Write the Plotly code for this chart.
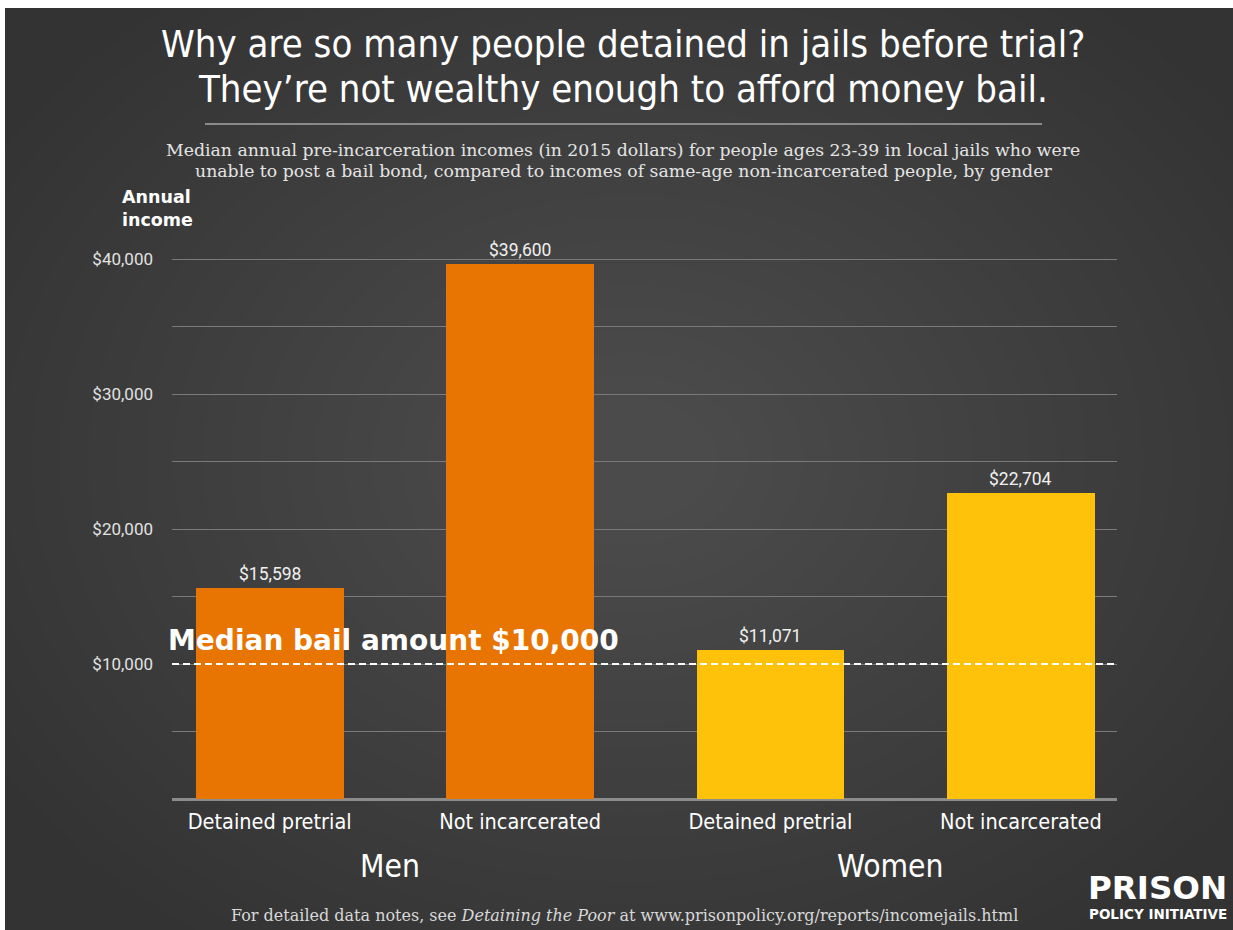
import plotly.graph_objects as go

# --- data -------------------------------------------------------------
categories = ["Detained pretrial", "Not incarcerated", "Detained pretrial", "Not incarcerated"]
groups = ["Men", "Women"]
incomes = [15598, 39600, 11071, 22704]
bar_colors = ["#E87502", "#E87502", "#FFC20A", "#FFC20A"]
median_bail = 10000
y_tickvals = [0, 5000, 10000, 15000, 20000, 25000, 30000, 35000, 40000]
y_ticktext = ["", "", "$10,000", "", "$20,000", "", "$30,000", "", "$40,000"]

W, H = 1233, 930
ML, MR, MT, MB = 172, W - 1117, 254, H - 799
PW, PH = W - ML - MR, H - MT - MB
# keep 40,000 at pixel row 259 while leaving headroom so its gridline is drawn
Y_MAX = 40000 * PH / (799 - 259)


def px(x):
    """pixel x -> paper x"""
    return (x - ML) / PW


def py(y):
    """pixel y -> paper y"""
    return (H - MB - y) / PH


SANS = "Roboto, 'Open Sans', sans-serif"
COND = "'Liberation Sans Narrow', 'DejaVu Sans Condensed', Roboto, sans-serif"
BOLD = "'DejaVu Sans', Lato, sans-serif"
SERIF = "'DejaVu Serif', 'Liberation Serif', serif"

xpos = list(range(len(incomes)))

fig = go.Figure()
fig.add_trace(go.Bar(
    x=xpos, y=incomes, marker=dict(color=bar_colors, line=dict(width=0)),
    width=0.59, hoverinfo="skip", showlegend=False,
))

shapes = []
# dark card with a faint lighter centre
shapes.append(dict(type="rect", xref="paper", yref="paper", layer="below",
                   x0=px(5), x1=px(W), y0=py(8), y1=py(H),
                   fillcolor="#333333", line=dict(width=0)))
n_rings = 24
for i in range(n_rings):
    f = 1 - i / n_rings
    dx, dy = 680 * f + 60, 540 * f + 40
    cx, cy = 630, 460
    shapes.append(dict(type="circle", xref="paper", yref="paper", layer="below",
                       x0=px(cx - dx), x1=px(cx + dx), y0=py(cy - dy), y1=py(cy + dy),
                       fillcolor="rgba(255,255,255,0.007)", line=dict(width=0)))
# title rule
shapes.append(dict(type="line", xref="paper", yref="paper",
                   x0=px(205), x1=px(1042), y0=py(124), y1=py(124),
                   line=dict(color="#8a8a8a", width=2)))
# median bail reference line
shapes.append(dict(type="line", xref="x", yref="y", layer="above",
                   x0=-0.39, x1=3.396, y0=median_bail, y1=median_bail,
                   line=dict(color="white", width=2, dash="7px,4px")))

ann = []
ann.append(dict(text="Why are so many people detained in jails before trial?",
                x=px(623), y=py(44), font=dict(family=COND, size=38, color="white")))
ann.append(dict(text="They\u2019re not wealthy enough to afford money bail.",
                x=px(623), y=py(89), font=dict(family=COND, size=38, color="white")))
ann.append(dict(text="Median annual pre-incarceration incomes (in 2015 dollars) for people ages 23-39 in local jails who were",
                x=px(623), y=py(150), font=dict(family=SERIF, size=17.3, color="#e4e4e4")))
ann.append(dict(text="unable to post a bail bond, compared to incomes of same-age non-incarcerated people, by gender",
                x=px(623), y=py(171), font=dict(family=SERIF, size=17.3, color="#e4e4e4")))
ann.append(dict(text="<b>Annual</b><br><b>income</b>", align="left", xanchor="left",
                x=px(120), y=py(208), font=dict(family=BOLD, size=17.5, color="white")))
for i, v in enumerate(incomes):
    ann.append(dict(text=f"${v:,}", xref="x", yref="y", x=i, y=v,
                    yanchor="bottom", yshift=2,
                    font=dict(family=SANS, size=17.5, color="#f0f0f0")))
ann.append(dict(text=f"<b>Median bail amount ${median_bail:,}</b>", xref="paper", yref="y",
                x=px(166), y=median_bail, xanchor="left", yanchor="bottom", yshift=5,
                font=dict(family=BOLD, size=28, color="white")))
for gx, g in zip([0.5, 2.5], groups):
    ann.append(dict(text=g, xref="x", x=gx - 0.02, y=py(866),
                    font=dict(family=COND, size=31.5, color="white")))
ann.append(dict(text="For detailed data notes, see <i>Detaining the Poor</i> at www.prisonpolicy.org/reports/incomejails.html",
                x=px(624), y=py(915), font=dict(family=SERIF, size=16, color="#d8d8d8")))
ann.append(dict(text="<b>PRISON</b>", x=px(1229), y=py(888), xanchor="right",
                font=dict(family=BOLD, size=32.5, color="white")))
ann.append(dict(text="<b>POLICY INITIATIVE</b>", x=px(1229), y=py(914), xanchor="right",
                font=dict(family=BOLD, size=13.5, color="white")))

for a in ann:
    a.setdefault("xref", "paper")
    a.setdefault("yref", "paper")
    a.setdefault("xanchor", "center")
    a.setdefault("yanchor", "middle")
    a["showarrow"] = False

fig.update_layout(
    width=W, height=H, autosize=False,
    margin=dict(l=ML, r=MR, t=MT, b=MB, pad=0),
    paper_bgcolor="white", plot_bgcolor="rgba(0,0,0,0)",
    shapes=shapes, annotations=ann, bargap=0,
    xaxis=dict(range=[-0.39, 3.384], tickvals=xpos, ticktext=categories,
               showgrid=False, zeroline=False, showline=False, ticks="",
               ticklabelstandoff=7,
               tickfont=dict(family=COND, size=21.5, color="white"), fixedrange=True),
    yaxis=dict(range=[0, Y_MAX], tickvals=y_tickvals, ticktext=y_ticktext,
               showgrid=True, gridcolor="#7a7a7a", gridwidth=1,
               zeroline=True, zerolinecolor="#8c8c8c", zerolinewidth=3,
               showline=False, ticks="", ticklabelstandoff=18,
               tickfont=dict(family=SANS, size=17, color="#e2e2e2"), fixedrange=True),
    font=dict(family=SANS),
)

fig.write_html("out.html", config={"displayModeBar": False})
